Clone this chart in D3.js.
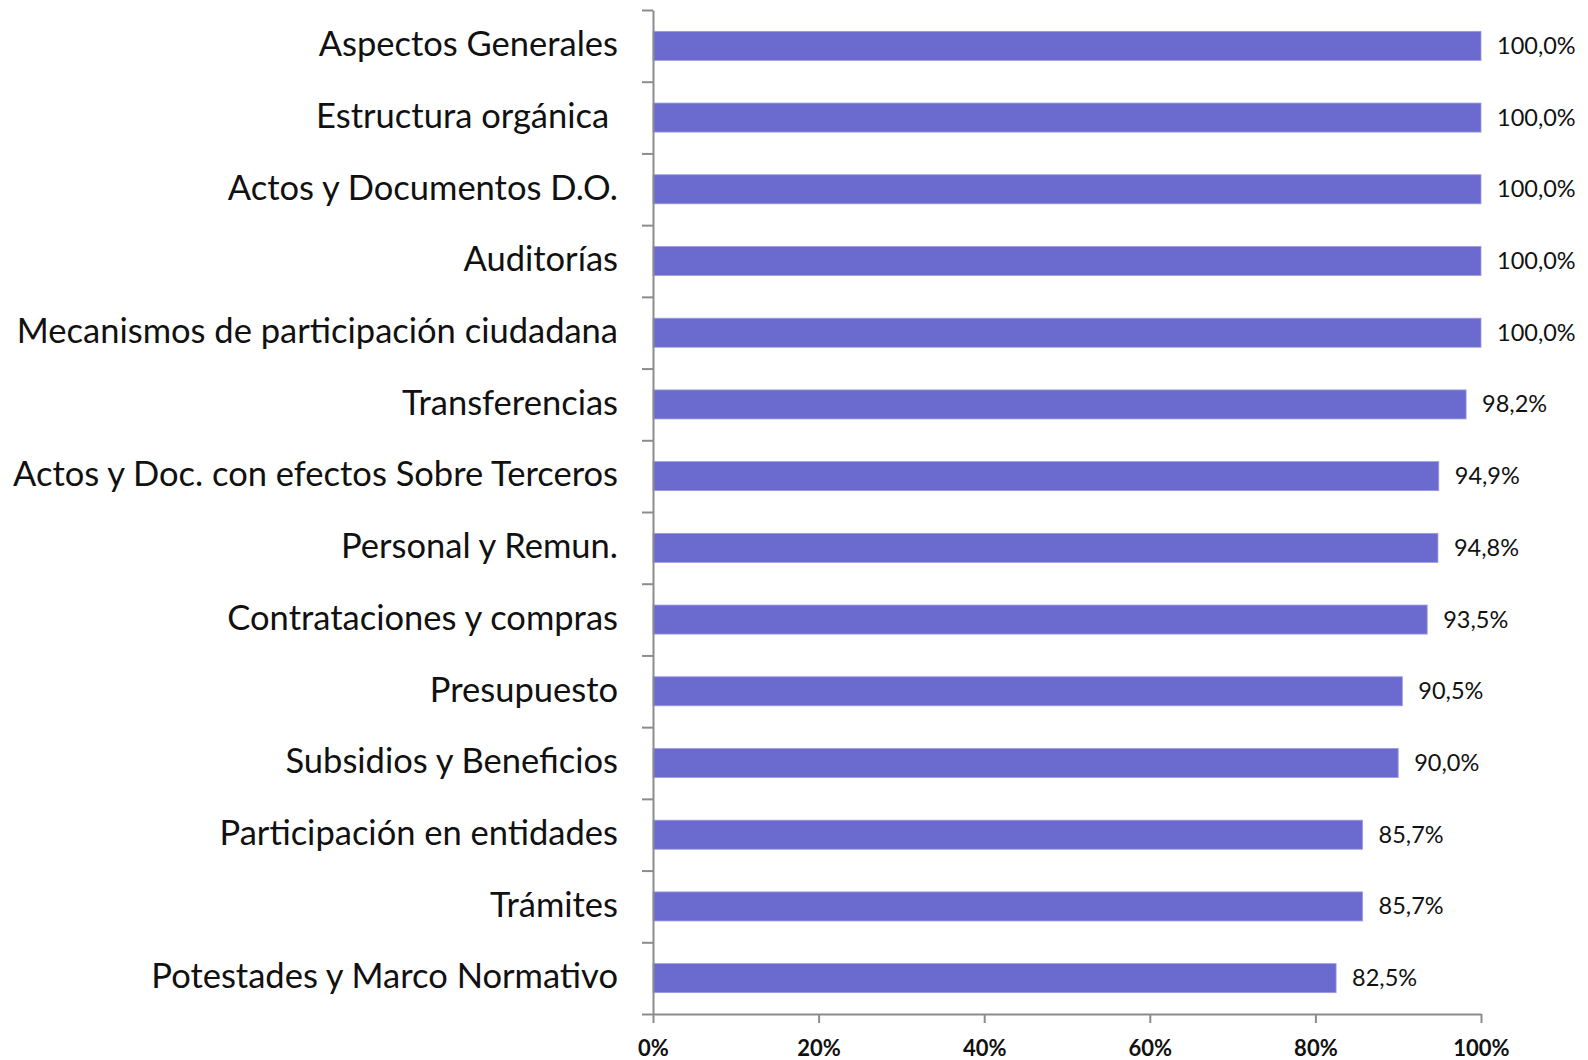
<!DOCTYPE html>
<html>
<head>
<meta charset="utf-8">
<script src="https://cdn.jsdelivr.net/npm/d3@7"></script>
<style>
  body { margin: 0; background: #fff; }
  text { font-family: Lato, "Open Sans", sans-serif; }
</style>
</head>
<body>
<script>
// categories, top to bottom
var categories = [
  "Aspectos Generales",
  "Estructura orgánica ",
  "Actos y Documentos D.O.",
  "Auditorías",
  "Mecanismos de participación ciudadana",
  "Transferencias",
  "Actos y Doc. con efectos Sobre Terceros",
  "Personal y Remun.",
  "Contrataciones y compras",
  "Presupuesto",
  "Subsidios y Beneficios",
  "Participación en entidades",
  "Trámites",
  "Potestades y Marco Normativo"
];
var values = [100, 100, 100, 100, 100, 98.2, 94.9, 94.8, 93.5, 90.5, 90.0, 85.7, 85.7, 82.5];
var xTicks = [0, 20, 40, 60, 80, 100];

var width = 1588, height = 1060;
// plot area edges (note: "top" is reserved on window, so use prefixed names)
var plotLeft = 653, plotRight = 1481, plotTop = 10, plotBottom = 1014;

var svg = d3.select( "body" )
            .append( "svg" )
              .attr( "width", width )
              .attr( "height", height );

var x = d3.scaleLinear().domain( [0, 100] ).range( [plotLeft, plotRight] );
var y = d3.scaleBand().domain( categories ).range( [plotTop, plotBottom] ).paddingInner( 0.595 ).paddingOuter( 0.2975 );
// boundaries between categories, for the Excel-style ticks
var yEdge = d3.scaleLinear().domain( [0, categories.length] ).range( [plotTop, plotBottom] );

// bars
svg.selectAll( "rect.bar" )
  .data( values )
  .enter()
  .append( "rect" )
    .attr( "class", "bar" )
    .attr( "x", x(0) )
    .attr( "y", function(d,i){ return y( categories[i] ); })
    .attr( "width", function(d){ return x(d) - x(0); })
    .attr( "height", y.bandwidth() )
    .attr( "fill", "#6b6bcf" )
    .attr( "stroke", "#9c9ce0" )
    .attr( "stroke-width", 0.8 );

// value labels
svg.selectAll( "text.val" )
  .data( values )
  .enter()
  .append( "text" )
    .attr( "class", "val" )
    .attr( "x", function(d){ return x(d) + 16; })
    .attr( "y", function(d,i){ return y( categories[i] ) + y.bandwidth() / 2; })
    .attr( "dy", "0.34em" )
    .attr( "font-size", 23.5 )
    .attr( "fill", "#111" )
    .text( function(d){ return d.toFixed(1).replace( ".", "," ) + "%"; });

// category labels
svg.selectAll( "text.cat" )
  .data( categories )
  .enter()
  .append( "text" )
    .attr( "class", "cat" )
    .attr( "x", 618 )
    .attr( "y", function(d){ return y(d) + y.bandwidth() / 2; })
    .attr( "dy", "0.3em" )
    .attr( "text-anchor", "end" )
    .attr( "font-size", 34.5 )
    .attr( "fill", "#111" )
    .style( "white-space", "pre" )
    .text( function(d){ return d; });

// left axis with ticks between categories
svg.append( "g" )
  .attr( "transform", "translate(" + plotLeft + ",0)" )
  .call( d3.axisLeft( yEdge ).tickValues( d3.range( categories.length + 1 ) ).tickSize( 11 ).tickSizeOuter( 0 ).tickFormat( "" ) );

// bottom axis
var xAxis = svg.append( "g" )
  .attr( "transform", "translate(0," + plotBottom + ")" )
  .call( d3.axisBottom( x ).tickValues( xTicks ).tickSize( 9 ).tickSizeOuter( 0 ).tickFormat( function(d){ return d + "%"; }) );

svg.selectAll( ".domain, .tick line" )
  .attr( "stroke", "#8c8c8c" )
  .attr( "stroke-width", 2 );

xAxis.selectAll( "text" )
  .attr( "font-size", 22 )
  .attr( "font-weight", "bold" )
  .attr( "fill", "#111" )
  .attr( "y", 26 )
  .attr( "dy", "0.71em" );
</script>
</body>
</html>
